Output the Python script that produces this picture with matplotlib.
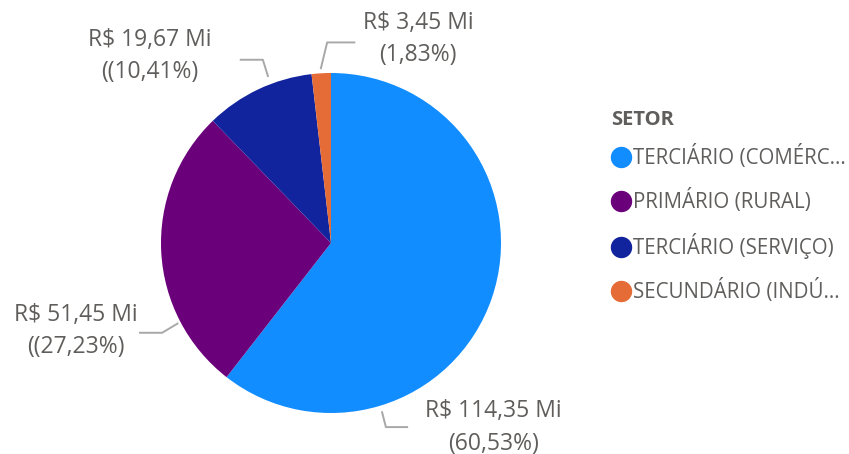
import numpy as np
import matplotlib.pyplot as plt
from matplotlib.lines import Line2D

plt.rcParams['font.family'] = ['Open Sans', 'DejaVu Sans']

# data
setores = ['TERCIÁRIO (COMÉRC...', 'PRIMÁRIO (RURAL)', 'TERCIÁRIO (SERVIÇO)', 'SECUNDÁRIO (INDÚ...']
valores = [114.35, 51.45, 19.67, 3.45]
pct_labels = ['(60,53%)', '((27,23%)', '((10,41%)', '(1,83%)']
cores = ['#118DFF', '#6B007B', '#12239E', '#E66C37']

# label layout (pie radius = 1): leader start angle/radius, elbow angle/radius, horizontal run, text centre
start_ang = [-73.2, 207.7, 110.7, 93.3]
start_r = [1.04, 1.02, 1.05, 1.03]
elbow_ang = [-73.4, 208.0, 110.4, 91.1]
elbow_r = [1.13, 1.125, 1.15, 1.18]
hor_len = [0.125, -0.13, -0.13, 0.16]
text_pos = [(0.954, -1.085), (-1.50, -0.518), (-1.065, 1.10), (0.512, 1.20)]

W, H = 849, 454
cx, cy, R = 331, 243, 170
fig = plt.figure(figsize=(W / 100, H / 100), dpi=100)
ax = fig.add_axes([0, 0, 1, 1])

wedges, _ = ax.pie(valores, colors=cores, startangle=90, counterclock=False, radius=1.0,
                   wedgeprops=dict(linewidth=0))
ax.set_aspect('auto')
ax.set_xlim(-cx / R, (W - cx) / R)
ax.set_ylim(-(H - cy) / R, cy / R)
ax.axis('off')

def fmt(v):
    return 'R$ ' + f'{v:.2f}'.replace('.', ',') + ' Mi'

for i, v in enumerate(valores):
    a0 = np.deg2rad(start_ang[i])
    a1 = np.deg2rad(elbow_ang[i])
    x0, y0 = start_r[i] * np.cos(a0), start_r[i] * np.sin(a0)
    x1, y1 = elbow_r[i] * np.cos(a1), elbow_r[i] * np.sin(a1)
    x2 = x1 + hor_len[i]
    ax.plot([x0, x1, x2], [y0, y1, y1], color='#A8A8A8', lw=1.4, clip_on=False)
    tx, ty = text_pos[i]
    ax.text(tx, ty, fmt(v) + '\n' + pct_labels[i], ha='center', va='center', fontsize=16.5,
            color='#605E5C', linespacing=1.46, multialignment='center')

# legend
fig.text(611 / W, 1 - 120 / H, 'SETOR', fontsize=14.5, fontweight='bold', color='#605E5C',
         ha='left', va='center')
handles = [Line2D([], [], marker='o', linestyle='', markersize=14.4, color=c) for c in cores]
leg = fig.legend(handles, setores, loc='upper left', bbox_to_anchor=(611 / W, 1 - 145 / H),
                 frameon=False, fontsize=14.8, borderpad=0, borderaxespad=0,
                 handletextpad=0.1, handlelength=0.97, labelspacing=0.97)
for t in leg.get_texts():
    t.set_color('#605E5C')

fig.savefig('out.png', dpi=100)
